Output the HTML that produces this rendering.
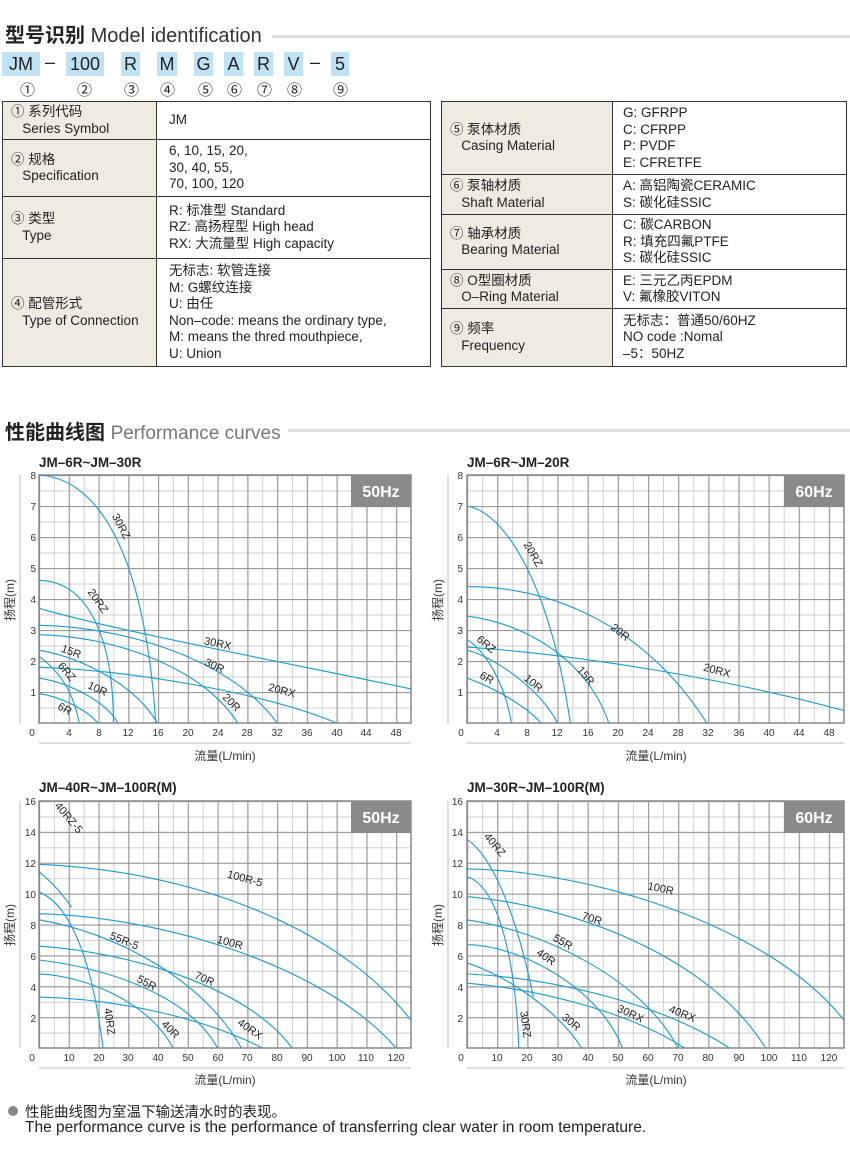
<!DOCTYPE html>
<html><head><meta charset="utf-8"><style>
body{margin:0;width:850px;height:1163px;background:#fff;position:relative;overflow:hidden;font-family:"Liberation Sans","Noto Sans CJK SC",sans-serif;color:#222}
.a{position:absolute;white-space:nowrap}
.box{position:absolute;background:#bfe2f5;height:24px;top:52px;font-size:18px;line-height:24px;text-align:center;color:#222}
.cn{position:absolute;top:79px;font-size:15px}
table{position:absolute;border-collapse:collapse;font-size:13.5px;line-height:16.5px}
td{border:1.5px solid #333;padding:0 0 0 12px;vertical-align:middle;white-space:nowrap}
td.l{background:#efebe1;padding-left:8px}
.t2{padding-left:10px}
</style></head><body>
<div class="a" style="left:5px;top:19px;font-size:20px"><b>型号识别</b> <span style="font-size:20px;color:#333">Model identification</span></div>
<div class="a" style="left:272px;top:35px;width:578px;height:3px;background:#ddd"></div>
<div class="box" style="left:2px;width:38px">JM</div>
<div class="a" style="left:45px;top:52px;font-size:18px">–</div>
<div class="box" style="left:66px;width:38px">100</div>
<div class="box" style="left:121px;width:19px">R</div>
<div class="box" style="left:157px;width:20px">M</div>
<div class="box" style="left:194px;width:19px">G</div>
<div class="box" style="left:224px;width:19px">A</div>
<div class="box" style="left:254px;width:19px">R</div>
<div class="box" style="left:284px;width:19px">V</div>
<div class="a" style="left:310px;top:52px;font-size:18px">–</div>
<div class="box" style="left:331px;width:18px">5</div>
<div class="cn" style="left:20px">①</div><div class="cn" style="left:77px">②</div><div class="cn" style="left:124px">③</div><div class="cn" style="left:160px">④</div><div class="cn" style="left:198px">⑤</div><div class="cn" style="left:227px">⑥</div><div class="cn" style="left:257px">⑦</div><div class="cn" style="left:287px">⑧</div><div class="cn" style="left:333px">⑨</div>

<table style="left:2px;top:101px;width:429px">
<tr style="height:38px"><td class="l" style="width:145px">① 系列代码<br>&nbsp;&nbsp;&nbsp;Series Symbol</td><td>JM</td></tr>
<tr style="height:57px"><td class="l">② 规格<br>&nbsp;&nbsp;&nbsp;Specification</td><td>6, 10, 15, 20,<br>30, 40, 55,<br>70, 100, 120</td></tr>
<tr style="height:62px"><td class="l">③ 类型<br>&nbsp;&nbsp;&nbsp;Type</td><td>R: 标准型 Standard<br>RZ: 高扬程型 High head<br>RX: 大流量型 High capacity</td></tr>
<tr style="height:108px"><td class="l">④ 配管形式<br>&nbsp;&nbsp;&nbsp;Type of Connection</td><td>无标志: 软管连接<br>M: G螺纹连接<br>U: 由任<br>Non–code: means the ordinary type,<br>M: means the thred mouthpiece,<br>U: Union</td></tr>
</table>
<table style="left:441px;top:101px;width:406px">
<tr style="height:73px"><td class="l" style="width:162px">⑤ 泵体材质<br>&nbsp;&nbsp;&nbsp;Casing Material</td><td class="t2">G: GFRPP<br>C: CFRPP<br>P: PVDF<br>E: CFRETFE</td></tr>
<tr style="height:40px"><td class="l">⑥ 泵轴材质<br>&nbsp;&nbsp;&nbsp;Shaft Material</td><td class="t2">A: 高铝陶瓷CERAMIC<br>S: 碳化硅SSIC</td></tr>
<tr style="height:55px"><td class="l">⑦ 轴承材质<br>&nbsp;&nbsp;&nbsp;Bearing Material</td><td class="t2">C: 碳CARBON<br>R: 填充四氟PTFE<br>S: 碳化硅SSIC</td></tr>
<tr style="height:39px"><td class="l">⑧ O型圈材质<br>&nbsp;&nbsp;&nbsp;O–Ring Material</td><td class="t2">E: 三元乙丙EPDM<br>V: 氟橡胶VITON</td></tr>
<tr style="height:58px"><td class="l">⑨ 频率<br>&nbsp;&nbsp;&nbsp;Frequency</td><td class="t2">无标志：普通50/60HZ<br>NO code :Nomal<br>–5：50HZ</td></tr>
</table>

<div class="a" style="left:5px;top:416px;font-size:20px"><b>性能曲线图</b> <span style="font-size:19px;color:#777">Performance curves</span></div>
<div class="a" style="left:288px;top:429px;width:562px;height:3px;background:#ddd"></div>

<svg class="a" style="left:0;top:0" width="850" height="1163" font-family="Liberation Sans, Noto Sans CJK SC, sans-serif">
<defs>
<pattern id="m1" patternUnits="userSpaceOnUse" x="39" y="475" width="14.88" height="15.5"><path d="M0 .5H20M.5 0V20" stroke="#cfcfcf" stroke-width="1"/></pattern>
<pattern id="M1" patternUnits="userSpaceOnUse" x="39" y="475" width="29.76" height="31"><path d="M0 .5H40M.5 0V40" stroke="#9a9a9a" stroke-width="1.3"/></pattern>
<pattern id="m2" patternUnits="userSpaceOnUse" x="467" y="475" width="15.08" height="15.5"><path d="M0 .5H20M.5 0V20" stroke="#cfcfcf" stroke-width="1"/></pattern>
<pattern id="M2" patternUnits="userSpaceOnUse" x="467" y="475" width="30.16" height="31"><path d="M0 .5H40M.5 0V40" stroke="#9a9a9a" stroke-width="1.3"/></pattern>
<pattern id="m3" patternUnits="userSpaceOnUse" x="39" y="801" width="14.88" height="15.44"><path d="M0 .5H20M.5 0V20" stroke="#cfcfcf" stroke-width="1"/></pattern>
<pattern id="M3" patternUnits="userSpaceOnUse" x="39" y="801" width="29.76" height="30.88"><path d="M0 .5H40M.5 0V40" stroke="#9a9a9a" stroke-width="1.3"/></pattern>
<pattern id="m4" patternUnits="userSpaceOnUse" x="467" y="801" width="15.08" height="15.44"><path d="M0 .5H20M.5 0V20" stroke="#cfcfcf" stroke-width="1"/></pattern>
<pattern id="M4" patternUnits="userSpaceOnUse" x="467" y="801" width="30.16" height="30.88"><path d="M0 .5H40M.5 0V40" stroke="#9a9a9a" stroke-width="1.3"/></pattern>
</defs>
<g font-size="10" fill="#333">
<!-- chart1 -->
<text x="39" y="467" font-size="13.5" font-weight="bold" fill="#222">JM–6R~JM–30R</text>
<rect x="39" y="475" width="372" height="248" fill="url(#m1)"/><rect x="39" y="475" width="372" height="248" fill="url(#M1)"/>
<rect x="39" y="475" width="372" height="248" fill="none" stroke="#888" stroke-width="1.5"/>
<rect x="351" y="475" width="60" height="32" fill="#8a8a8a"/><text x="381" y="497" text-anchor="middle" font-size="16" font-weight="bold" fill="#fff">50Hz</text>
<g text-anchor="end"><text x="36" y="696">1</text><text x="36" y="665">2</text><text x="36" y="634">3</text><text x="36" y="603">4</text><text x="36" y="572">5</text><text x="36" y="541">6</text><text x="36" y="510">7</text><text x="36" y="479">8</text></g>
<g text-anchor="middle"><text x="32" y="736">0</text><text x="69" y="736">4</text><text x="99" y="736">8</text><text x="128" y="736">12</text><text x="158" y="736">16</text><text x="188" y="736">20</text><text x="218" y="736">24</text><text x="247" y="736">28</text><text x="277" y="736">32</text><text x="307" y="736">36</text><text x="337" y="736">40</text><text x="366" y="736">44</text><text x="396" y="736">48</text></g>
<line x1="39" y1="743" x2="411" y2="743" stroke="#bbb"/><line x1="20" y1="475" x2="20" y2="723" stroke="#bbb"/>
<text x="225" y="760" text-anchor="middle" font-size="12">流量(L/min)</text>
<text transform="translate(14,600) rotate(-90)" text-anchor="middle" font-size="12">扬程(m)</text>
<!-- chart2 -->
<text x="467" y="467" font-size="13.5" font-weight="bold" fill="#222">JM–6R~JM–20R</text>
<rect x="467" y="475" width="377" height="248" fill="url(#m2)"/><rect x="467" y="475" width="377" height="248" fill="url(#M2)"/>
<rect x="467" y="475" width="377" height="248" fill="none" stroke="#888" stroke-width="1.5"/>
<rect x="784" y="475" width="60" height="32" fill="#8a8a8a"/><text x="814" y="497" text-anchor="middle" font-size="16" font-weight="bold" fill="#fff">60Hz</text>
<g text-anchor="end"><text x="463" y="696">1</text><text x="463" y="665">2</text><text x="463" y="634">3</text><text x="463" y="603">4</text><text x="463" y="572">5</text><text x="463" y="541">6</text><text x="463" y="510">7</text><text x="463" y="479">8</text></g>
<g text-anchor="middle"><text x="461" y="736">0</text><text x="497" y="736">4</text><text x="527" y="736">8</text><text x="557" y="736">12</text><text x="588" y="736">16</text><text x="618" y="736">20</text><text x="648" y="736">24</text><text x="678" y="736">28</text><text x="708" y="736">32</text><text x="739" y="736">36</text><text x="769" y="736">40</text><text x="799" y="736">44</text><text x="829" y="736">48</text></g>
<line x1="467" y1="743" x2="844" y2="743" stroke="#bbb"/><line x1="448" y1="475" x2="448" y2="723" stroke="#bbb"/>
<text x="656" y="760" text-anchor="middle" font-size="12">流量(L/min)</text>
<text transform="translate(442,600) rotate(-90)" text-anchor="middle" font-size="12">扬程(m)</text>
<!-- chart3 -->
<text x="39" y="792" font-size="13.5" font-weight="bold" fill="#222">JM–40R~JM–100R(M)</text>
<rect x="39" y="801" width="372" height="247" fill="url(#m3)"/><rect x="39" y="801" width="372" height="247" fill="url(#M3)"/>
<rect x="39" y="801" width="372" height="247" fill="none" stroke="#888" stroke-width="1.5"/>
<rect x="351" y="801" width="60" height="32" fill="#8a8a8a"/><text x="381" y="823" text-anchor="middle" font-size="16" font-weight="bold" fill="#fff">50Hz</text>
<g text-anchor="end"><text x="36" y="1022">2</text><text x="36" y="991">4</text><text x="36" y="960">6</text><text x="36" y="929">8</text><text x="36" y="898">10</text><text x="36" y="867">12</text><text x="36" y="836">14</text><text x="36" y="805">16</text></g>
<g text-anchor="middle"><text x="32" y="1061">0</text><text x="69" y="1061">10</text><text x="99" y="1061">20</text><text x="128" y="1061">30</text><text x="158" y="1061">40</text><text x="188" y="1061">50</text><text x="218" y="1061">60</text><text x="247" y="1061">70</text><text x="277" y="1061">80</text><text x="307" y="1061">90</text><text x="337" y="1061">100</text><text x="366" y="1061">110</text><text x="396" y="1061">120</text></g>
<line x1="39" y1="1068" x2="411" y2="1068" stroke="#bbb"/><line x1="20" y1="801" x2="20" y2="1048" stroke="#bbb"/>
<text x="225" y="1084" text-anchor="middle" font-size="12">流量(L/min)</text>
<text transform="translate(14,925) rotate(-90)" text-anchor="middle" font-size="12">扬程(m)</text>
<!-- chart4 -->
<text x="467" y="792" font-size="13.5" font-weight="bold" fill="#222">JM–30R~JM–100R(M)</text>
<rect x="467" y="801" width="377" height="247" fill="url(#m4)"/><rect x="467" y="801" width="377" height="247" fill="url(#M4)"/>
<rect x="467" y="801" width="377" height="247" fill="none" stroke="#888" stroke-width="1.5"/>
<rect x="784" y="801" width="60" height="32" fill="#8a8a8a"/><text x="814" y="823" text-anchor="middle" font-size="16" font-weight="bold" fill="#fff">60Hz</text>
<g text-anchor="end"><text x="463" y="1022">2</text><text x="463" y="991">4</text><text x="463" y="960">6</text><text x="463" y="929">8</text><text x="463" y="898">10</text><text x="463" y="867">12</text><text x="463" y="836">14</text><text x="463" y="805">16</text></g>
<g text-anchor="middle"><text x="461" y="1061">0</text><text x="497" y="1061">10</text><text x="527" y="1061">20</text><text x="557" y="1061">30</text><text x="588" y="1061">40</text><text x="618" y="1061">50</text><text x="648" y="1061">60</text><text x="678" y="1061">70</text><text x="708" y="1061">80</text><text x="739" y="1061">90</text><text x="769" y="1061">100</text><text x="799" y="1061">110</text><text x="829" y="1061">120</text></g>
<line x1="467" y1="1068" x2="844" y2="1068" stroke="#bbb"/><line x1="448" y1="801" x2="448" y2="1048" stroke="#bbb"/>
<text x="656" y="1084" text-anchor="middle" font-size="12">流量(L/min)</text>
<text transform="translate(442,925) rotate(-90)" text-anchor="middle" font-size="12">扬程(m)</text>
</g>

<g fill="none" stroke="#1a9ad6" stroke-width="1.1">
<g transform="translate(39,723) scale(7.44,-31)">
<path vector-effect="non-scaling-stroke" d="M0 8C7 7.9 14 6 15.7 0"/>
<path vector-effect="non-scaling-stroke" d="M0 4.6C6 4.6 10 3 10 0"/>
<path vector-effect="non-scaling-stroke" d="M0 3.7C10 3 30 2.1 50 1.1"/>
<path vector-effect="non-scaling-stroke" d="M0 3.15C12 3.1 26 2 32 0"/>
<path vector-effect="non-scaling-stroke" d="M0 2.85C10 2.8 22 1.8 26.7 0"/>
<path vector-effect="non-scaling-stroke" d="M0 1.8C12 1.7 30 1 40 0"/>
<path vector-effect="non-scaling-stroke" d="M0 2.35C6 2.1 13 1.2 15.9 0"/>
<path vector-effect="non-scaling-stroke" d="M0 1.45C4 1.3 9 .7 10.6 0"/>
<path vector-effect="non-scaling-stroke" d="M0 .95C3 .85 6.5 .4 7.9 0"/>
<path vector-effect="non-scaling-stroke" d="M0 2.15C2 1.8 4.5 1.2 5.4 0"/>
</g>
<g transform="translate(467,723) scale(7.54,-31)">
<path vector-effect="non-scaling-stroke" d="M0 7C5 6.8 11 4.5 13.7 0"/>
<path vector-effect="non-scaling-stroke" d="M0 4.4C12 4.4 24 3 31.8 0"/>
<path vector-effect="non-scaling-stroke" d="M0 3.45C8 3.2 16 2 18.8 0"/>
<path vector-effect="non-scaling-stroke" d="M0 2.45C15 2.2 35 1.4 50 .4"/>
<path vector-effect="non-scaling-stroke" d="M0 2.35C4 2.1 10 1 12 0"/>
<path vector-effect="non-scaling-stroke" d="M0 2.7C2.5 2.3 5 1.3 5.9 0"/>
<path vector-effect="non-scaling-stroke" d="M0 1.45C4 1.1 8 .5 9.8 0"/>
</g>
<g transform="translate(39,1048) scale(2.976,-15.44)">
<path vector-effect="non-scaling-stroke" d="M0 11.9C50 11.5 100 8 125 1.8"/>
<path vector-effect="non-scaling-stroke" d="M0 8.7C40 8.5 95 5.5 120 0"/>
<path vector-effect="non-scaling-stroke" d="M0 11.4Q6 10.5 11 9.1"/>
<path vector-effect="non-scaling-stroke" d="M0 10.1C8 9.5 17 7 21.5 0"/>
<path vector-effect="non-scaling-stroke" d="M0 8.3C25 7.5 55 4.5 68 0"/>
<path vector-effect="non-scaling-stroke" d="M0 6.6C30 6.2 70 4 85 0"/>
<path vector-effect="non-scaling-stroke" d="M0 5.7C22 5.2 50 3.5 60 0"/>
<path vector-effect="non-scaling-stroke" d="M0 4.8C15 4.7 37 3 45 0"/>
<path vector-effect="non-scaling-stroke" d="M0 3.3C25 3.2 55 2 75 0"/>
</g>
<g transform="translate(467,1048) scale(3.016,-15.44)">
<path vector-effect="non-scaling-stroke" d="M0 13.5C8 12.5 16 9 22 3.3"/>
<path vector-effect="non-scaling-stroke" d="M0 11.1C10 10.5 16 6 17.2 0"/>
<path vector-effect="non-scaling-stroke" d="M0 11.6C40 11.5 100 8 125 1.8"/>
<path vector-effect="non-scaling-stroke" d="M0 9.8C35 9.2 80 6 99 0"/>
<path vector-effect="non-scaling-stroke" d="M0 8.3C25 7.6 58 4.5 70 0"/>
<path vector-effect="non-scaling-stroke" d="M0 6.7C20 6.6 45 3.5 51.5 0"/>
<path vector-effect="non-scaling-stroke" d="M0 5.5C12 4.8 30 2.5 38 0"/>
<path vector-effect="non-scaling-stroke" d="M0 4.8C30 4.5 65 2.8 87 0"/>
<path vector-effect="non-scaling-stroke" d="M0 4.2C25 3.8 55 2.2 72 0"/>
</g>
</g>

<g font-size="11" fill="#222" text-anchor="middle">
<text transform="translate(118,528) rotate(62)">30RZ</text>
<text transform="translate(95,603) rotate(55)">20RZ</text>
<text transform="translate(217,647) rotate(12)">30RX</text>
<text transform="translate(213,669) rotate(25)">30R</text>
<text transform="translate(70,655) rotate(20)">15R</text>
<text transform="translate(64,674) rotate(50)">6RZ</text>
<text transform="translate(96,692) rotate(25)">10R</text>
<text transform="translate(63,712) rotate(30)">6R</text>
<text transform="translate(229,705) rotate(45)">20R</text>
<text transform="translate(281,694) rotate(15)">20RX</text>

<text transform="translate(530,556) rotate(60)">20RZ</text>
<text transform="translate(618,635) rotate(38)">20R</text>
<text transform="translate(583,678) rotate(50)">15R</text>
<text transform="translate(716,674) rotate(15)">20RX</text>
<text transform="translate(531,686) rotate(40)">10R</text>
<text transform="translate(484,647) rotate(40)">6RZ</text>
<text transform="translate(485,681) rotate(30)">6R</text>

<text transform="translate(66,820) rotate(50)">40RZ-5</text>
<text transform="translate(244,882) rotate(15)">100R-5</text>
<text transform="translate(229,946) rotate(15)">100R</text>
<text transform="translate(123,944) rotate(22)">55R-5</text>
<text transform="translate(203,982) rotate(25)">70R</text>
<text transform="translate(145,986) rotate(28)">55R</text>
<text transform="translate(168,1032) rotate(45)">40R</text>
<text transform="translate(248,1032) rotate(35)">40RX</text>
<text transform="translate(106,1022) rotate(82)">40RZ</text>

<text transform="translate(492,847) rotate(50)">40RZ</text>
<text transform="translate(660,892) rotate(12)">100R</text>
<text transform="translate(591,922) rotate(18)">70R</text>
<text transform="translate(561,945) rotate(30)">55R</text>
<text transform="translate(544,960) rotate(35)">40R</text>
<text transform="translate(522,1025) rotate(82)">30RZ</text>
<text transform="translate(569,1025) rotate(40)">30R</text>
<text transform="translate(629,1017) rotate(25)">30RX</text>
<text transform="translate(681,1017) rotate(22)">40RX</text>
</g>
<circle cx="13" cy="1111" r="5" fill="#888"/>
</svg>
<div class="a" style="left:25px;top:1101px;font-size:14.5px">性能曲线图为室温下输送清水时的表现。</div>
<div class="a" style="left:25px;top:1119px;font-size:15.5px">The performance curve is the performance of transferring clear water in room temperature.</div>
</body></html>
